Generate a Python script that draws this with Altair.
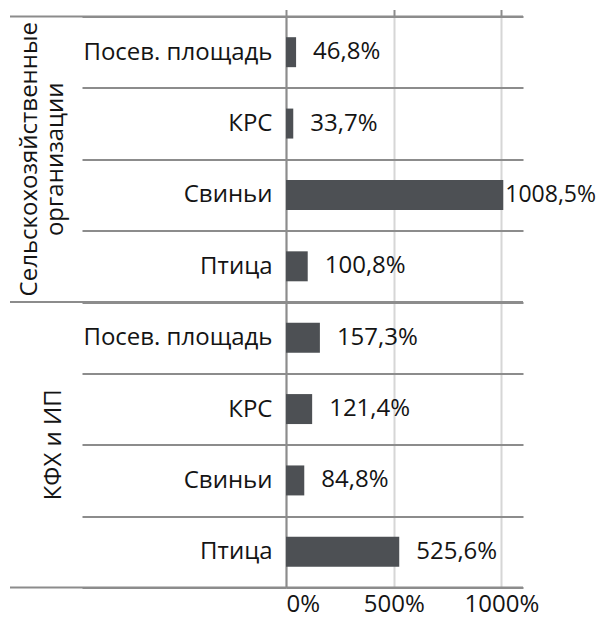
import altair as alt
import pandas as pd

groups = ["Сельскохозяйственные организации", "КФХ и ИП"]
group_titles = ["Сельскохозяйственные\nорганизации", "КФХ и ИП"]
categories = ["Посев. площадь", "КРС", "Свиньи", "Птица"]
values_org = [46.8, 33.7, 1008.5, 100.8]
values_kfh = [157.3, 121.4, 84.8, 525.6]
x_ticks = [0, 500, 1000]

rows = []
for g, vals in zip(groups, [values_org, values_kfh]):
    for c, v in zip(categories, vals):
        rows.append({"group": g, "category": c, "key": f"{g}|{c}", "value": v})
df = pd.DataFrame(rows)
keys = list(df["key"])

W, H = 237, 571
LINE = "#8c8c8c"
GRID = "#d6d6d6"
BAR = "#4d5054"
TXT = "#141414"
FONT = "Open Sans"
FS = 24

y_scale = alt.Scale(domain=keys, paddingInner=0, paddingOuter=0)
x_scale = alt.Scale(domain=[0, 1100], nice=False)

y_axis = alt.Axis(
    title=None, tickBand="extent", tickSize=204, tickColor=LINE, tickWidth=2,
    grid=True, gridColor=LINE, gridWidth=2, domainColor=LINE, domainWidth=2,
    labelExpr="split(datum.value, '|')[1]", labelPadding=-190,
    labelFont=FONT, labelFontSize=FS, labelColor=TXT, labelLimit=0,
)
x_axis = alt.Axis(
    title=None, values=x_ticks, labelExpr="datum.value + '%'", grid=True,
    gridColor=GRID, gridWidth=2, ticks=False, tickSize=0, domain=False,
    labelPadding=24, labelBaseline="alphabetic",
    labelFont=FONT, labelFontSize=FS, labelColor=TXT,
)
x_top_axis = alt.Axis(
    title=None, orient="top", values=x_ticks, labels=False, domain=False,
    ticks=True, tickSize=7, tickColor=LINE, tickWidth=2, grid=False,
)


def Y(**kw):
    return alt.Y("key:N", scale=y_scale, axis=y_axis, sort=None, **kw)


base = alt.Chart(df)

bars = base.mark_bar(color=BAR, height={"band": 0.42}).encode(
    y=Y(),
    x=alt.X("value:Q", scale=x_scale, axis=x_axis),
)

label_expr = "replace(format(datum.value, '.1f'), '.', ',') + '%'"
labels_small = base.transform_filter("datum.value < 1000").transform_calculate(
    label=label_expr
).mark_text(align="left", baseline="middle", dx=17, font=FONT, fontSize=FS, color=TXT).encode(
    y=Y(),
    x=alt.X("value:Q", scale=x_scale, axis=x_top_axis),
    text="label:N",
)
labels_big = base.transform_filter("datum.value >= 1000").transform_calculate(
    label=label_expr
).mark_text(align="left", baseline="middle", dx=2, font=FONT, fontSize=23, color=TXT).encode(
    y=Y(),
    x=alt.X("value:Q", scale=x_scale, axis=None),
    text="label:N",
)

bounds_start = pd.DataFrame({"key": [keys[0], keys[4]]})
bounds_end = pd.DataFrame({"key": [keys[-1]]})
rule_start = alt.Chart(bounds_start).mark_rule(color=LINE, strokeWidth=2).encode(
    y=Y(bandPosition=0),
    x=alt.value(-276), x2=alt.value(W),
)
rule_end = alt.Chart(bounds_end).mark_rule(color=LINE, strokeWidth=2).encode(
    y=Y(bandPosition=1),
    x=alt.value(-276), x2=alt.value(W),
)

g1 = pd.DataFrame({"key": [keys[1]], "title": [group_titles[0]]})
g2 = pd.DataFrame({"key": [keys[5]], "title": [group_titles[1]]})
gt1 = alt.Chart(g1).mark_text(
    angle=270, align="center", baseline="middle", lineBreak="\n", lineHeight=26,
    font=FONT, fontSize=FS, color=TXT,
).encode(
    y=Y(bandPosition=1),
    x=alt.value(-256), text="title:N",
)
gt2 = alt.Chart(g2).mark_text(
    angle=270, align="center", baseline="middle",
    font=FONT, fontSize=FS, color=TXT,
).encode(
    y=Y(bandPosition=1),
    x=alt.value(-232), text="title:N",
)

chart = alt.layer(
    bars, labels_small, labels_big, rule_start, rule_end, gt1, gt2
).resolve_axis(x="independent").properties(
    width=W, height=H,
    autosize=alt.AutoSizeParams(type="none"),
    padding={"left": 278, "top": 8.5, "right": 74, "bottom": 27.5},
).configure_view(stroke=None)

chart.save("out.html", embed_options={"renderer": "svg", "actions": False})
